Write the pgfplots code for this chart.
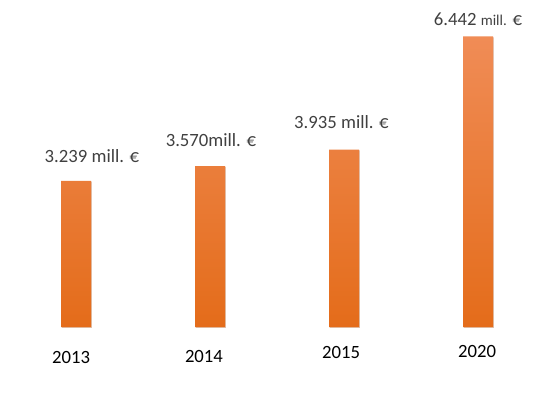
\documentclass[border=0pt]{standalone}
\usepackage{pgfplots}
\pgfplotsset{compat=1.18}
\usetikzlibrary{shadows}
\usepackage{fontspec}
\setmainfont{Carlito}
\definecolor{valgray}{HTML}{404040}
\definecolor{bartop}{HTML}{F08C56}
\definecolor{barmid}{HTML}{F27F22}
\definecolor{barbot}{HTML}{E46C1A}
\begin{document}
\begin{tikzpicture}
\path[use as bounding box] (0,0) rectangle (551bp,397bp);
\begin{axis}[
  at={(0,0)}, anchor=south west,
  scale only axis, width=551bp, height=397bp,
  xmin=-0.5672, xmax=3.5448,
  ymin=-1.552, ymax=7.251,
  hide axis, clip=false,
  ybar, bar width=30bp,
]
\addplot[draw=none, top color=bartop, middle color=barmid, bottom color=barbot,
  drop shadow={shadow xshift=0.8bp, shadow yshift=-0.8bp, opacity=0.25, fill=gray}] coordinates {(0,3.239) (1,3.570) (2,3.935) (3,6.442)};
\begin{scope}[font=\fontsize{18.7bp}{22bp}\selectfont]
\node[text=valgray, inner sep=0pt] at (axis cs:0.119,3.79) {3.239 mill. €};
\node[text=valgray, inner sep=0pt] at (axis cs:1.007,4.146) {3.570mill. €};
\node[text=valgray, inner sep=0pt] at (axis cs:1.981,4.545) {3.935 mill. €};
\node[text=valgray, inner sep=0pt] at (axis cs:3.0,6.829) {6.442 {\fontsize{15bp}{18bp}\selectfont mill.} €};
\node[text=black, inner sep=0pt] at (axis cs:-0.037,-0.665) {2013};
\node[text=black, inner sep=0pt] at (axis cs:0.955,-0.643) {2014};
\node[text=black, inner sep=0pt] at (axis cs:1.978,-0.576) {2015};
\node[text=black, inner sep=0pt] at (axis cs:2.993,-0.554) {2020};
\end{scope}
\end{axis}
\end{tikzpicture}
\end{document}
